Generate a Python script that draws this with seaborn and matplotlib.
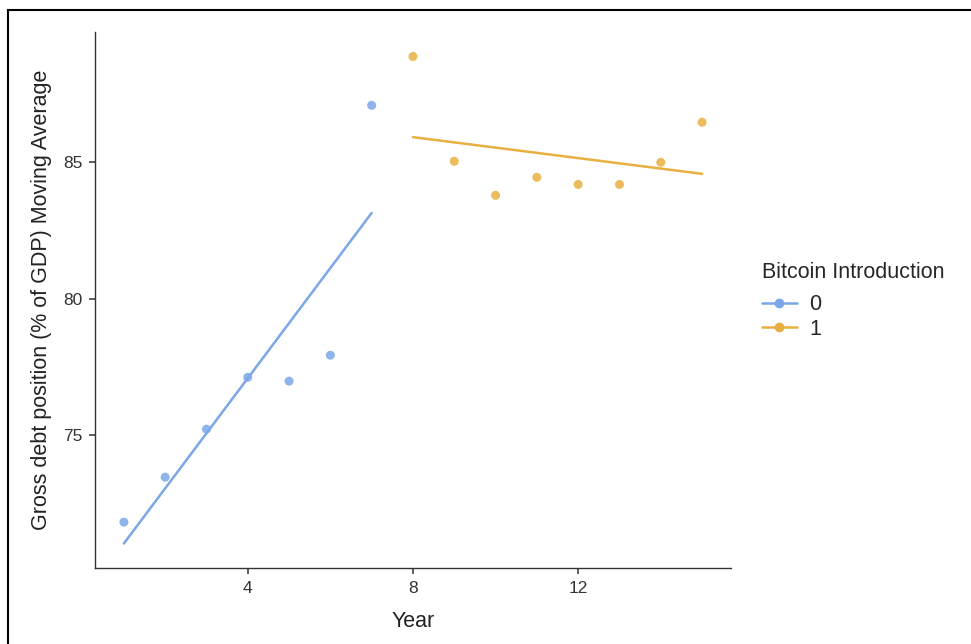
import numpy as np
import pandas as pd
import matplotlib
matplotlib.use("Agg")
import matplotlib.pyplot as plt
import seaborn as sns
from matplotlib.lines import Line2D
from matplotlib.patches import Rectangle

years = list(range(1, 16))
debt = [71.81, 73.46, 75.22, 77.12, 76.98, 77.93, 87.09,
        88.88, 85.04, 83.79, 84.45, 84.19, 84.19, 85.00, 86.47]
bitcoin = [0] * 7 + [1] * 8

df = pd.DataFrame({"Year": years, "Debt": debt, "Bitcoin": bitcoin})

sns.set_style("ticks")
plt.rcParams["font.family"] = ["Liberation Sans", "DejaVu Sans"]

colors = {0: "#7ba7e8", 1: "#e8b040"}

fig = plt.figure(figsize=(9.71, 6.44), dpi=100)
ax = fig.add_axes([0.0978, 0.118, 0.655, 0.832])

for g, sub in df.groupby("Bitcoin"):
    sns.scatterplot(data=sub, x="Year", y="Debt", color=colors[g], s=42,
                    alpha=0.85, edgecolor="none", ax=ax, legend=False)
    sns.regplot(data=sub, x="Year", y="Debt", scatter=False, ci=None,
                color=colors[g], line_kws={"linewidth": 1.8}, ax=ax, truncate=True)

ax.set_xlim(0.3, 15.7)
ax.set_ylim(70.13, 89.77)
ax.set_xticks([4, 8, 12])
ax.set_yticks([75, 80, 85])
ax.set_xlabel("Year", fontsize=15.5, color="#222222", labelpad=11)
ax.set_ylabel("Gross debt position (% of GDP) Moving Average", fontsize=15.5,
              color="#222222", labelpad=8)
ax.tick_params(axis="both", labelsize=12.5, labelcolor="#333333", color="#333333",
               length=4, width=1.1, direction="out", pad=5)
sns.despine(ax=ax)
for s in ["left", "bottom"]:
    ax.spines[s].set_color("#333333")
    ax.spines[s].set_linewidth(1.0)

handles = [Line2D([0], [0], color=colors[g], marker="o", markersize=6,
                  linewidth=1.8) for g in [0, 1]]
leg = fig.legend(handles, ["0", "1"], title="Bitcoin Introduction",
                 loc="upper left", bbox_to_anchor=(0.776, 0.606),
                 frameon=False, fontsize=15.5, title_fontsize=15.5,
                 handlelength=1.6, handletextpad=0.6, labelspacing=0.15,
                 borderaxespad=0.0)
leg._legend_box.align = "left"
leg._legend_box.sep = 8

fig.patches.append(Rectangle((8 / 971, -0.05), 1.1, 1 - 10 / 644 + 0.05,
                             transform=fig.transFigure, fill=False,
                             edgecolor="black", linewidth=1.5))

fig.savefig("out.png", dpi=100)
